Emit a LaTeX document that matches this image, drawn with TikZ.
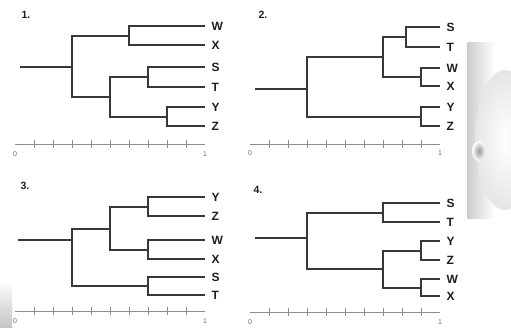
\documentclass[tikz,border=0pt]{standalone}
\usepackage{fontspec}
\setmainfont{Liberation Sans}
\definecolor{treec}{HTML}{383838}
\definecolor{labc}{HTML}{1E1E1E}
\definecolor{axc}{HTML}{8C8C8C}
\definecolor{numc}{HTML}{6E6E6E}
\tikzset{
  tree/.style={draw=treec, line width=2pt},
  lab/.style={anchor=west, inner xsep=6.5pt, inner ysep=0pt, outer sep=0pt,
    font=\fontsize{12}{12}\selectfont\bfseries, text=labc},
  axisline/.style={draw=axc, line width=0.7pt},
  num/.style={font=\fontsize{7}{7}\selectfont, text=numc, inner sep=0pt},
  ttl/.style={font=\fontsize{10.5}{10.5}\selectfont\bfseries, text=labc, inner sep=0pt}
}
\begin{document}
\begin{tikzpicture}[x=1pt,y=-1pt]
\useasboundingbox (0,0) rectangle (511,327);
\fill[white] (0,0) rectangle (511,327);

% background artefacts
\begin{scope}
  \clip (467,42) rectangle (511,218);
  \shade[left color=gray!40, right color=white] (467,42) rectangle (495,218);
  \shade[inner color=white, outer color=white!80!gray] (505,140) ellipse (30 and 70);
  \shade[inner color=gray!80, outer color=white] (479,151) ellipse (7 and 10);
\end{scope}
\shade[top color=white, bottom color=gray!45] (0,280) rectangle (12,327);

% ---------------- Panel 1 ----------------
\node[ttl] (t1) at (26,15) {1.};
\node[lab] (a1W) at (205,26) {W};
\node[lab] (a1X) at (205,45) {X};
\node[lab] (a1S) at (205,67) {S};
\node[lab] (a1T) at (205,87) {T};
\node[lab] (a1Y) at (205,107) {Y};
\node[lab] (a1Z) at (205,126) {Z};
\coordinate (a1wx) at (129,36);
\coordinate (a1st) at (148,77);
\coordinate (a1yz) at (167,117);
\coordinate (a1sy) at (110,97);
\coordinate (a1r) at (72,67);
\coordinate (a1s) at (20,67);
\draw[tree] (a1W.west) -| (a1wx) |- (a1X.west);
\draw[tree] (a1S.west) -| (a1st) |- (a1T.west);
\draw[tree] (a1Y.west) -| (a1yz) |- (a1Z.west);
\draw[tree] (a1st) -| (a1sy) |- (a1yz);
\draw[tree] (a1wx) -| (a1r) |- (a1sy);
\draw[tree] (a1s) -- (a1r);
\coordinate (x1a) at (15,144);
\coordinate (x1b) at (205,144);
\draw[axisline] (x1a) -- (x1b);
\foreach \k in {1,...,9} \draw[axisline] ([xshift=\k*19pt, yshift=-4pt]x1a) -- ++(0,-8);
\node[num] (n1a) at (15,154) {0};
\node[num] (n1b) at (205,154) {1};

% ---------------- Panel 2 ----------------
\node[ttl] (t2) at (263,15) {2.};
\node[lab] (a2S) at (440,27) {S};
\node[lab] (a2T) at (440,47) {T};
\node[lab] (a2W) at (440,68) {W};
\node[lab] (a2X) at (440,86) {X};
\node[lab] (a2Y) at (440,107) {Y};
\node[lab] (a2Z) at (440,126) {Z};
\coordinate (a2st) at (406,37);
\coordinate (a2wx) at (421,77);
\coordinate (a2sw) at (383,57);
\coordinate (a2yz) at (421,117);
\coordinate (a2r) at (307,89);
\coordinate (a2s) at (255,89);
\draw[tree] (a2S.west) -| (a2st) |- (a2T.west);
\draw[tree] (a2W.west) -| (a2wx) |- (a2X.west);
\draw[tree] (a2Y.west) -| (a2yz) |- (a2Z.west);
\draw[tree] (a2st) -| (a2sw) |- (a2wx);
\draw[tree] (a2sw) -| (a2r) |- (a2yz);
\draw[tree] (a2s) -- (a2r);
\coordinate (x2a) at (250,144);
\coordinate (x2b) at (440,144);
\draw[axisline] (x2a) -- (x2b);
\foreach \k in {1,...,9} \draw[axisline] ([xshift=\k*19pt, yshift=-4pt]x2a) -- ++(0,-8);
\node[num] (n2a) at (250,153) {0};
\node[num] (n2b) at (440,153) {1};

% ---------------- Panel 3 ----------------
\node[ttl] (t3) at (25,186) {3.};
\node[lab] (a3Y) at (205,197) {Y};
\node[lab] (a3Z) at (205,216) {Z};
\node[lab] (a3W) at (205,240) {W};
\node[lab] (a3X) at (205,259) {X};
\node[lab] (a3S) at (205,277) {S};
\node[lab] (a3T) at (205,295) {T};
\coordinate (a3yz) at (148,207);
\coordinate (a3wx) at (148,250);
\coordinate (a3yw) at (110,229);
\coordinate (a3st) at (148,286);
\coordinate (a3r) at (72,240);
\coordinate (a3s) at (18,240);
\draw[tree] (a3Y.west) -| (a3yz) |- (a3Z.west);
\draw[tree] (a3W.west) -| (a3wx) |- (a3X.west);
\draw[tree] (a3S.west) -| (a3st) |- (a3T.west);
\draw[tree] (a3yz) -| (a3yw) |- (a3wx);
\draw[tree] (a3yw) -| (a3r) |- (a3st);
\draw[tree] (a3s) -- (a3r);
\coordinate (x3a) at (15,311);
\coordinate (x3b) at (205,311);
\draw[axisline] (x3a) -- (x3b);
\foreach \k in {1,...,9} \draw[axisline] ([xshift=\k*19pt, yshift=-4pt]x3a) -- ++(0,-8);
\node[num] (n3a) at (15,321) {0};
\node[num] (n3b) at (205,321) {1};

% ---------------- Panel 4 ----------------
\node[ttl] (t4) at (258,190) {4.};
\node[lab] (a4S) at (440,203) {S};
\node[lab] (a4T) at (440,222) {T};
\node[lab] (a4Y) at (440,241) {Y};
\node[lab] (a4Z) at (440,260) {Z};
\node[lab] (a4W) at (440,279) {W};
\node[lab] (a4X) at (440,296) {X};
\coordinate (a4st) at (383,213);
\coordinate (a4yz) at (421,251);
\coordinate (a4wx) at (421,288);
\coordinate (a4yw) at (383,269);
\coordinate (a4r) at (307,238);
\coordinate (a4s) at (255,238);
\draw[tree] (a4S.west) -| (a4st) |- (a4T.west);
\draw[tree] (a4Y.west) -| (a4yz) |- (a4Z.west);
\draw[tree] (a4W.west) -| (a4wx) |- (a4X.west);
\draw[tree] (a4yz) -| (a4yw) |- (a4wx);
\draw[tree] (a4st) -| (a4r) |- (a4yw);
\draw[tree] (a4s) -- (a4r);
\coordinate (x4a) at (250,312);
\coordinate (x4b) at (440,312);
\draw[axisline] (x4a) -- (x4b);
\foreach \k in {1,...,9} \draw[axisline] ([xshift=\k*19pt, yshift=-4pt]x4a) -- ++(0,-8);
\node[num] (n4a) at (250,322) {0};
\node[num] (n4b) at (440,322) {1};
\end{tikzpicture}
\end{document}
